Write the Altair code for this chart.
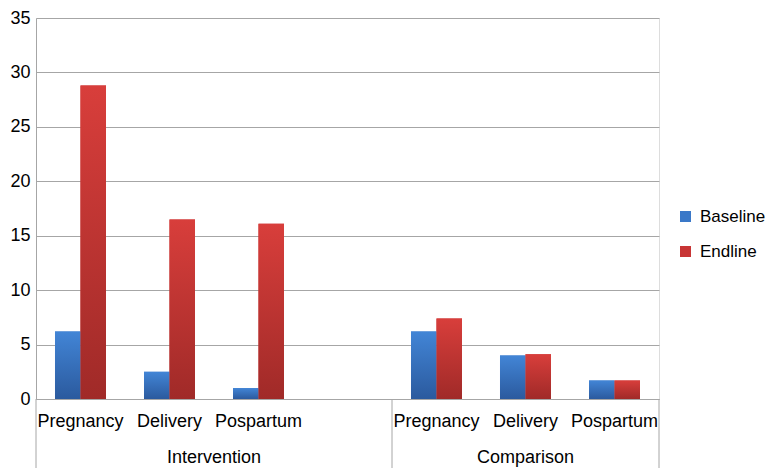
import altair as alt
import pandas as pd

groups = ["Intervention", "Intervention", "Intervention", "Comparison", "Comparison", "Comparison"]
phases = ["Pregnancy", "Delivery", "Pospartum", "Pregnancy", "Delivery", "Pospartum"]
baseline = [6.2, 2.5, 1.0, 6.2, 4.0, 1.7]
endline = [28.8, 16.5, 16.1, 7.4, 4.1, 1.7]
series = ["Baseline", "Endline"]
slots = ["Intervention|Pregnancy", "Intervention|Delivery", "Intervention|Pospartum", "Intervention|",
         "Comparison|Pregnancy", "Comparison|Delivery", "Comparison|Pospartum"]
y_ticks = [0, 5, 10, 15, 20, 25, 30, 35]

rows = []
for g, p, b, e in zip(groups, phases, baseline, endline):
    rows.append({"slot": f"{g}|{p}", "series": "Baseline", "value": b})
    rows.append({"slot": f"{g}|{p}", "series": "Endline", "value": e})
df = pd.DataFrame(rows)

W, H = 623, 381
FONT = "Liberation Sans"
GRAY = "#a6a6a6"

x_enc = alt.X(
    "slot:N",
    scale=alt.Scale(domain=slots, paddingInner=0, paddingOuter=0),
    axis=alt.Axis(title=None, labelExpr="split(datum.value, '|')[1]", labelAngle=0,
                  ticks=False, tickSize=0, labelPadding=13, labelFontSize=18,
                  labelColor="black", labelFont=FONT, domainColor=GRAY, grid=False),
)
xoff = alt.XOffset("series:N", scale=alt.Scale(domain=series, paddingOuter=0.745, paddingInner=0))
y_enc = alt.Y(
    "value:Q",
    scale=alt.Scale(domain=[0, 35], nice=False),
    axis=alt.Axis(values=y_ticks, title=None, ticks=False, tickSize=0, labelPadding=6,
                  labelFontSize=18, labelColor="black", labelFont=FONT, grid=True,
                  gridColor=GRAY, domainColor=GRAY),
)

base = alt.Chart(df)

legend_bars = base.mark_bar().encode(
    x=x_enc, xOffset=xoff, y=y_enc,
    color=alt.Color("series:N", scale=alt.Scale(domain=series, range=["#3a78c8", "#c83535"]),
                    legend=alt.Legend(title=None, orient="none", legendX=641, legendY=190,
                                      symbolType="square", symbolSize=121, labelFontSize=17,
                                      labelFont=FONT, labelColor="black", rowPadding=17,
                                      labelOffset=6, padding=0, symbolStrokeWidth=0)),
)

def grad(top, bottom):
    return alt.LinearGradient(gradient="linear",
                              stops=[alt.GradientStop(color=top, offset=0),
                                     alt.GradientStop(color=bottom, offset=1)],
                              x1=0, x2=0, y1=0, y2=1)

blue_bars = base.mark_bar(color=grad("#4285d6", "#2b5a9e")).encode(
    x=x_enc, xOffset=xoff, y=y_enc).transform_filter(alt.datum.series == "Baseline")
red_bars = base.mark_bar(color=grad("#d83e3b", "#a02a28")).encode(
    x=x_enc, xOffset=xoff, y=y_enc).transform_filter(alt.datum.series == "Endline")

sep_df = pd.DataFrame({"slot": ["Comparison|Pregnancy"]})
mid_rule = alt.Chart(sep_df).mark_rule(color=GRAY).encode(
    x=alt.X("slot:N", bandPosition=0), y=alt.value(H), y2=alt.value(H + 72))
left_rule = alt.Chart(sep_df).mark_rule(color=GRAY).encode(
    x=alt.value(0), y=alt.value(H), y2=alt.value(H + 72))
right_rule = alt.Chart(sep_df).mark_rule(color=GRAY).encode(
    x=alt.value(W), y=alt.value(H), y2=alt.value(H + 72))

int_lbl = alt.Chart(pd.DataFrame({"slot": ["Intervention|Delivery"], "label": ["Intervention"]})).mark_text(
    fontSize=18, font=FONT, color="black", baseline="middle", align="center").encode(
    x=alt.X("slot:N", bandPosition=1), y=alt.value(H + 59), text="label:N")
cmp_lbl = alt.Chart(pd.DataFrame({"slot": ["Comparison|Delivery"], "label": ["Comparison"]})).mark_text(
    fontSize=18, font=FONT, color="black", baseline="middle", align="center").encode(
    x=alt.X("slot:N", bandPosition=0.5), y=alt.value(H + 59), text="label:N")

chart = alt.layer(legend_bars, blue_bars, red_bars, mid_rule, left_rule, right_rule, int_lbl, cmp_lbl).properties(
    width=W, height=H,
    autosize=alt.AutoSizeParams(type="none"),
    padding={"left": 28, "top": 10, "right": 111, "bottom": 69},
).configure_view(stroke=None).configure(background="white")

chart.save("out.html", embed_options={"renderer": "svg", "actions": False})
